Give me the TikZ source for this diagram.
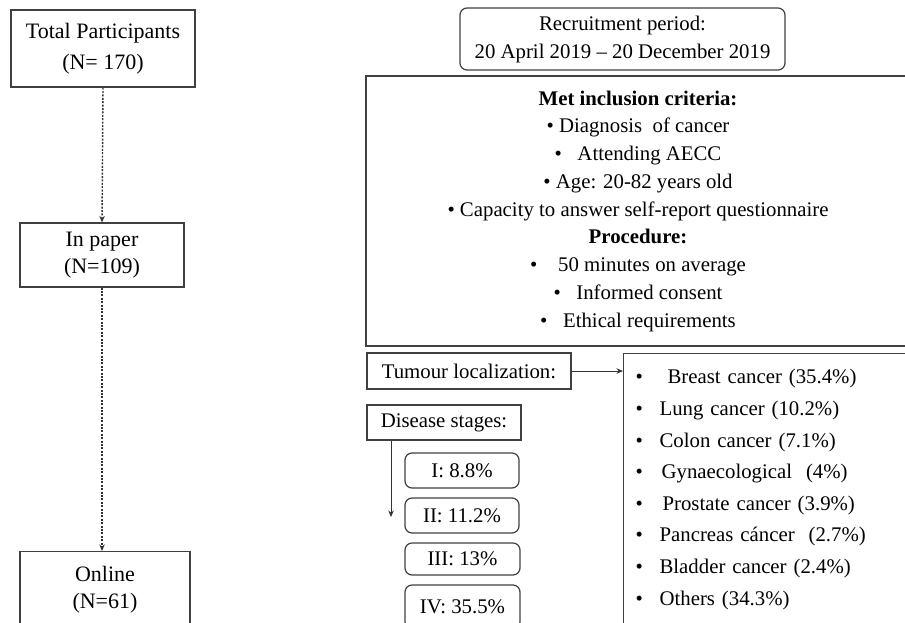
\documentclass[tikz,border=0pt]{standalone}
\usepackage{fontspec}
\setmainfont{Liberation Serif}
\usetikzlibrary{positioning, arrows.meta, calc}

\begin{document}
\begin{tikzpicture}[
    x=1pt, y=-1pt,
    > = {Stealth[length=6.5pt, width=5.5pt]},
    box/.style={draw=black!75, line width=1.2pt, align=center, inner sep=0pt,
        font=\fontsize{20.8}{28}\selectfont},
    rbox/.style={box, rounded corners=7pt},
    dotarrow/.style={->, draw=black!80, line width=1.4pt, dash pattern=on 2pt off 1.4pt},
    plainarrow/.style={->, draw=black!80, line width=1pt}
]
    \useasboundingbox (0,0) rectangle (905,622);
    \clip (0,0) rectangle (905,622);

    % left column: participants
    \node[box, minimum width=184pt, minimum height=77pt, font=\fontsize{22}{31}\selectfont]
        (total) at (103,48.5) {Total Participants\\(N= 170)};
    \node[box, minimum width=164pt, minimum height=64pt, font=\fontsize{22}{27}\selectfont]
        (paper) at (102,255) {In paper\\(N=109)};
    \node[box, anchor=north, minimum width=170pt, minimum height=76pt, font=\fontsize{22}{27}\selectfont]
        (online) at (105,551) {Online\\(N=61)};

    \draw[dotarrow] (total.south) -- (paper.north);
    \draw[dotarrow] (paper.south) -- (paper.south |- online.north);

    % right column: study description
    \node[rbox, minimum width=325pt, minimum height=62pt]
        (recruit) at (622.5,39) {Recruitment period:\\20 April 2019 -- 20 December 2019};
    \node[box, minimum width=544pt, minimum height=270pt, font=\fontsize{20.8}{27.75}\selectfont]
        (criteria) at (638,211) {\textbf{Met inclusion criteria:}\\
        \textbullet\ Diagnosis\ \ of cancer\\
        \textbullet\ \ \ Attending AECC\\
        \textbullet\ Age: 20-82 years old\\
        \textbullet\ Capacity to answer self-report questionnaire\\
        \textbf{Procedure:}\\
        \textbullet\ \ \ \ 50 minutes on average\\
        \textbullet\ \ \ Informed consent\\
        \textbullet\ \ \ Ethical requirements};

    % tumour localization
    \node[box, minimum width=204pt, minimum height=36pt] (tumour) at (469,371) {Tumour localization:};
    \node[box, anchor=north west, align=left, text width=300pt, inner xsep=12pt,
        minimum height=299pt, font=\fontsize{20.8}{31.6}\selectfont]
        (sites) at (623,353) {%
        \makebox[32pt][l]{\textbullet}Breast cancer (35.4\%)\\
        \makebox[24pt][l]{\textbullet}Lung cancer (10.2\%)\\
        \makebox[24pt][l]{\textbullet}Colon cancer (7.1\%)\\
        \makebox[26pt][l]{\textbullet}Gynaecological\ \ (4\%)\\
        \makebox[27pt][l]{\textbullet}Prostate cancer (3.9\%)\\
        \makebox[24pt][l]{\textbullet}Pancreas cáncer\ \ (2.7\%)\\
        \makebox[24pt][l]{\textbullet}Bladder cancer (2.4\%)\\
        \makebox[24pt][l]{\textbullet}Others (34.3\%)\\
        \mbox{}};
    \draw[plainarrow] (tumour.east) -- (tumour.east -| sites.west);

    % disease stages
    \node[box, minimum width=154pt, minimum height=35pt] (stages) at (444,422.5) {Disease stages:};
    \node[rbox, minimum width=114pt, minimum height=35pt] (st1) at (462,470.5) {I: 8.8\%};
    \node[rbox, minimum width=114pt, minimum height=35pt] (st2) at (462,515.5) {II: 11.2\%};
    \node[rbox, minimum width=115pt, minimum height=32pt] (st3) at (462.5,559) {III: 13\%};
    \node[rbox, minimum width=115pt, minimum height=44pt] (st4) at (462.5,607) {IV: 35.5\%};

    \coordinate (stagetip) at (391,517);
    \draw[plainarrow] (stages.south west -| stagetip) -- (stagetip);
\end{tikzpicture}
\end{document}
